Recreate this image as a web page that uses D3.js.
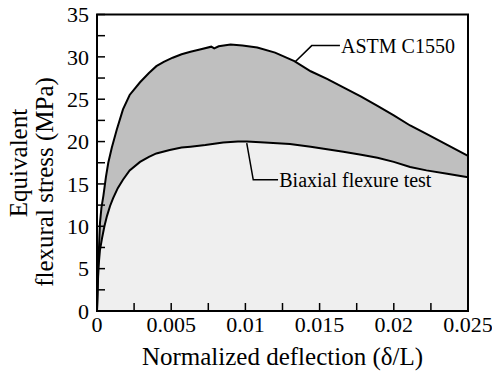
<!DOCTYPE html>
<html>
<head>
<meta charset="utf-8">
<script src="https://cdn.jsdelivr.net/npm/d3@7"></script>
<style>
  body { margin: 0; background: #fff; }
</style>
</head>
<body>
<div id="vis"></div>
<script>
// ASTM C1550 curve (deflection, stress)
const astmDefl = [0, 0.00005, 0.0001, 0.0002, 0.0003, 0.00043, 0.0006, 0.00076, 0.001, 0.00133, 0.00175, 0.0022, 0.0029, 0.0035, 0.004, 0.0045, 0.0051, 0.0057, 0.0063, 0.007, 0.0077, 0.0079, 0.0082, 0.009, 0.0098, 0.0108, 0.012, 0.0133, 0.0144, 0.0155, 0.0166, 0.0178, 0.0189, 0.02, 0.0211, 0.0222, 0.0236, 0.025];
const astmStress = [0, 3, 6, 10.4, 12.2, 13.6, 15.8, 17.5, 19.3, 21.4, 23.8, 25.5, 27.0, 28.1, 28.9, 29.4, 29.9, 30.3, 30.6, 30.9, 31.2, 31.0, 31.25, 31.45, 31.35, 31.1, 30.5, 29.5, 28.3, 27.4, 26.4, 25.3, 24.2, 23.1, 21.9, 20.9, 19.6, 18.3];

// Biaxial flexure test curve
const biaxDefl = [0, 0.00005, 0.0001, 0.0002, 0.00034, 0.0005, 0.00067, 0.00088, 0.00108, 0.0014, 0.00175, 0.0022, 0.0029, 0.0035, 0.004, 0.0049, 0.0057, 0.0063, 0.0073, 0.0085, 0.0095, 0.0101, 0.0113, 0.013, 0.0144, 0.0155, 0.0166, 0.0178, 0.0189, 0.02, 0.0211, 0.0222, 0.0236, 0.025];
const biaxStress = [0, 3, 5.2, 7.2, 8.6, 10, 11.2, 12.4, 13.3, 14.5, 15.5, 16.6, 17.6, 18.2, 18.6, 19.0, 19.3, 19.4, 19.6, 19.9, 20.0, 20.0, 19.9, 19.7, 19.4, 19.1, 18.8, 18.45, 18.1, 17.6, 17.0, 16.6, 16.2, 15.8];

const xTicks = [0, 0.005, 0.01, 0.015, 0.02, 0.025];
const xTickLabels = ["0", "0.005", "0.01", "0.015", "0.02", "0.025"];
const yTicks = [0, 5, 10, 15, 20, 25, 30, 35];

const serif = "'Liberation Serif', 'Times New Roman', Times, serif";
const margin = {top: 14.5, right: 24, bottom: 60, left: 97};
const W = 492, H = 371;
const width = W - margin.left - margin.right,
      height = H - margin.top - margin.bottom;

const svg = d3.select("#vis").append("svg")
    .attr("width", W)
    .attr("height", H)
    .attr("font-family", serif);

const g = svg.append("g")
    .attr("transform", `translate(${margin.left},${margin.top})`);

const x = d3.scaleLinear().domain([0, 0.025]).range([0, width]);
const y = d3.scaleLinear().domain([0, 35]).range([height, 0]);

const astm = astmDefl.map((d, i) => [d, astmStress[i]]);
const biax = biaxDefl.map((d, i) => [d, biaxStress[i]]);

const area = d3.area()
    .x(d => x(d[0]))
    .y0(y(0))
    .y1(d => y(d[1]));
const line = d3.line()
    .x(d => x(d[0]))
    .y(d => y(d[1]));

// fills: between curves darker, under lower curve light
g.append("path").datum(astm).attr("d", area).attr("fill", "#bfbfbf");
g.append("path").datum(biax).attr("d", area).attr("fill", "#efefef");

g.append("path").datum(astm).attr("d", line)
    .attr("fill", "none").attr("stroke", "#000").attr("stroke-width", 2);
g.append("path").datum(biax).attr("d", line)
    .attr("fill", "none").attr("stroke", "#000").attr("stroke-width", 2);

// frame
g.append("rect")
    .attr("width", width).attr("height", height)
    .attr("fill", "none").attr("stroke", "#000").attr("stroke-width", 2);

// inward ticks, every half step
const xMinor = d3.range(0, 0.0251, 0.0025);
const yMinor = d3.range(0, 35.1, 2.5);
g.selectAll(".xt").data(xMinor).join("line")
    .attr("x1", d => x(d)).attr("x2", d => x(d))
    .attr("y1", height).attr("y2", height - 8)
    .attr("stroke", "#000").attr("stroke-width", 1.5);
g.selectAll(".yt").data(yMinor).join("line")
    .attr("x1", 0).attr("x2", 8)
    .attr("y1", d => y(d)).attr("y2", d => y(d))
    .attr("stroke", "#000").attr("stroke-width", 1.5);

// tick labels
g.selectAll(".xl").data(xTicks).join("text")
    .attr("x", d => x(d)).attr("y", height + 21)
    .attr("text-anchor", "middle")
    .attr("font-size", 22)
    .text((d, i) => xTickLabels[i]);
g.selectAll(".yl").data(yTicks).join("text")
    .attr("x", -8).attr("y", d => y(d)).attr("dy", "0.35em")
    .attr("text-anchor", "end")
    .attr("font-size", 22)
    .text(d => d);

// axis titles
svg.append("text")
    .attr("x", margin.left + width / 2).attr("y", 365)
    .attr("text-anchor", "middle")
    .attr("font-size", 25)
    .text("Normalized deflection (δ/L)");
svg.append("text")
    .attr("transform", "translate(27,163) rotate(-90)")
    .attr("text-anchor", "middle")
    .attr("font-size", 25)
    .text("Equivalent");
svg.append("text")
    .attr("transform", "translate(53,182) rotate(-90)")
    .attr("text-anchor", "middle")
    .attr("font-size", 25)
    .text("flexural stress (MPa)");

// leader labels
const astmLeader = [[0.01334, 29.4], [0.01447, 31.33], [0.01637, 31.33]];
const biaxLeader = [[0.01009, 19.83], [0.01053, 15.49], [0.0122, 15.49]];
[astmLeader, biaxLeader].forEach(pts => {
  g.append("path").datum(pts).attr("d", line)
      .attr("fill", "none").attr("stroke", "#000").attr("stroke-width", 1.5);
});
g.append("text")
    .attr("x", x(0.01644)).attr("y", y(31.33)).attr("dy", "0.35em")
    .attr("font-size", 20)
    .text("ASTM C1550");
g.append("text")
    .attr("x", x(0.01228)).attr("y", y(15.49)).attr("dy", "0.35em")
    .attr("font-size", 20)
    .text("Biaxial flexure test");
</script>
</body>
</html>
